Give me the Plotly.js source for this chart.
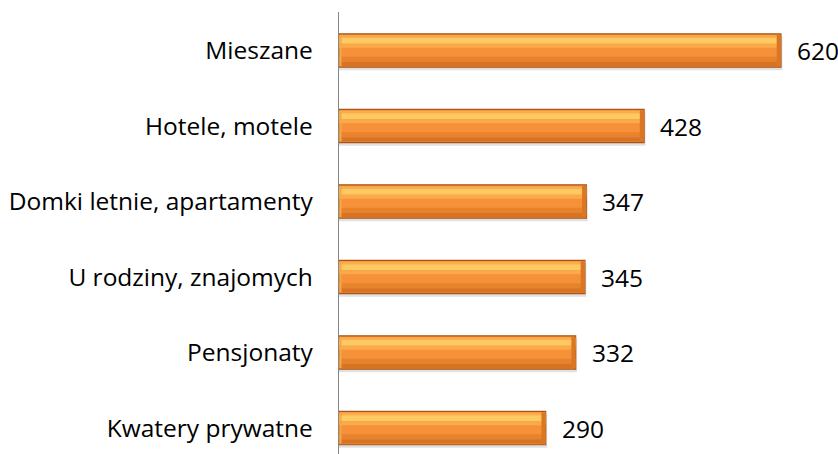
<!DOCTYPE html>
<html>
<head>
<meta charset="utf-8">
<script src="https://cdn.plot.ly/plotly-3.0.1.min.js"></script>
<style>html,body{margin:0;padding:0;background:#fff;}#chart{width:838px;height:454px;}</style>
</head>
<body>
<div id="chart"></div>
<script>
// Data (top to bottom)
const categories = ["Mieszane", "Hotele, motele", "Domki letnie, apartamenty", "U rodziny, znajomych", "Pensjonaty", "Kwatery prywatne"];
const values = [620, 428, 347, 345, 332, 290];
const valueLabels = ["620", "428", "347", "345", "332", "290"];

// styling helpers
const BAND = 75.5;      // px per category
const BARH = 33.4;      // bar height in px
const HALF = BARH / 2;
const FONT = "Open Sans, Liberation Sans, sans-serif";

function layer(topPx, botPx, color, opts) {
  opts = opts || {};
  return {
    type: "bar",
    orientation: "h",
    y: categories,
    x: opts.x || values,
    base: opts.base,
    offset: (-HALF + topPx) / BAND,
    width: (botPx - topPx) / BAND,
    marker: {color: color, line: {width: opts.lw || 0, color: opts.lc || color}},
    hoverinfo: "skip",
    showlegend: false
  };
}

const bevel = 6;
const traces = [
  // soft shadow
  layer(3, BARH + 3, "rgba(120,120,120,0.22)", {x: values.map(v => v + 2)}),
  // base body
  layer(0, BARH, "#f6913a", {lw: 1.2, lc: "#a6561a"}),
  // upper highlight
  layer(1.5, 4, "#f9ad4c"),
  layer(4, 10, "#fcc963"),
  layer(10, 14, "#faaa48"),
  // lower shading
  layer(23, 28, "#e8832d"),
  layer(28, BARH - 1, "#d77424"),
  // right bevel
  layer(1, BARH - 1, "#db7622", {x: values.map(() => bevel), base: values.map(v => v - bevel)}),
  // left bevel
  layer(1, BARH - 1, "#f9a445", {x: values.map(() => 3), base: values.map(() => 0.5)})
];

const annotations = categories.map((c, i) => ({
  x: values[i], y: c, xref: "x", yref: "y",
  text: valueLabels[i], showarrow: false,
  xanchor: "left", yanchor: "middle", xshift: 14,
  font: {family: FONT, size: 24.5, color: "#000"}
}));

const layout = {
  width: 838, height: 454,
  margin: {l: 339, r: 0, t: 12, b: 0},
  paper_bgcolor: "#fff", plot_bgcolor: "#fff",
  barmode: "overlay",
  xaxis: {range: [0, 700], visible: false, fixedrange: true},
  yaxis: {
    type: "category",
    categoryorder: "array", categoryarray: categories,
    range: [5.344, -0.51],
    showline: true, linecolor: "#868686", linewidth: 1.3,
    showgrid: false, zeroline: false, ticks: "",
    ticklabelstandoff: 20,
    tickfont: {family: FONT, size: 24.5, color: "#000"}
  },
  annotations: annotations,
  showlegend: false
};

Plotly.newPlot("chart", traces, layout, {staticPlot: true, displayModeBar: false});
</script>
</body>
</html>
